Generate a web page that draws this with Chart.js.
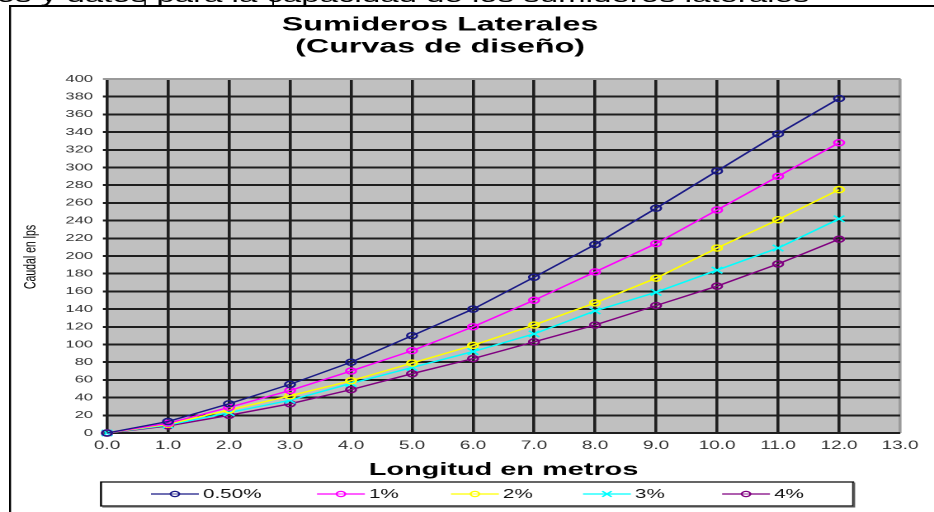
<!DOCTYPE html>
<html>
<head>
<meta charset="utf-8">
<script src="https://cdn.jsdelivr.net/npm/chart.js@4.4.0/dist/chart.umd.min.js"></script>
<style>
  html, body { margin: 0; padding: 0; background: #fff; overflow: hidden; }
  #wrap { position: absolute; left: 0; top: 0; width: 566px; height: 512px;
          transform: scaleX(1.650177); transform-origin: 0 0; }
</style>
</head>
<body>
<div id="wrap"><canvas id="c"></canvas></div>
<script>
// ---- data ----
const xValues = [0, 1, 2, 3, 4, 5, 6, 7, 8, 9, 10, 11, 12];
const seriesLabels = ['0.50%', '1%', '2%', '3%', '4%'];
const s050 = [0, 13, 33, 55, 80, 110, 140, 176, 213, 254, 296, 338, 378];
const s1   = [0, 11, 29, 48, 70, 93, 120, 150, 182, 214, 252, 290, 328];
const s2   = [0, 10, 26, 42, 59, 79, 99, 122, 147, 175, 209, 241, 275];
const s3   = [0, 9, 23, 37, 56, 74, 92, 112, 138, 159, 184, 209, 242];
const s4   = [0, 8, 20, 33, 49, 67, 84, 103, 122, 144, 166, 191, 219];
const titleLines = ['Sumideros Laterales', '(Curvas de diseño)'];
const xTitle = 'Longitud en metros';
const yTitle = 'Caudal en lps';
const topText = 'os y datos para la capacidad de los sumideros laterales';

const seriesValues = [s050, s1, s2, s3, s4];
const colors = ['#1a1a86', '#ff00ff', '#ffff00', '#00ffff', '#800080'];
const styles = ['circle', 'circle', 'circle', 'crossRot', 'circle'];

const FONT = "'Liberation Sans', Arial, Helvetica, sans-serif";

const datasets = seriesLabels.map((label, k) => ({
  label,
  data: xValues.map((x, i) => ({ x, y: seriesValues[k][i] })),
  borderColor: colors[k],
  backgroundColor: 'rgba(0,0,0,0)',
  borderWidth: 1.4,
  pointStyle: styles[k],
  pointRadius: styles[k] === 'crossRot' ? 4.5 : 3,
  pointBorderWidth: 1.4,
  pointBorderColor: colors[k],
  pointBackgroundColor: 'rgba(0,0,0,0)',
  tension: 0,
  clip: false
}));

const CW = 566, CH = 512;
const AREA = { left: 64.85, top: 79, right: 545.45, bottom: 433 };
const legendX = [91.5, 192.1, 273.3, 353.3, 437.6];

const decor = {
  id: 'decor',
  beforeDraw(chart) {
    const { ctx, chartArea: a } = chart;
    ctx.save();
    ctx.fillStyle = '#fff';
    ctx.fillRect(0, 0, chart.width, chart.height);
    // top fragment of surrounding document (cut by the page edge)
    ctx.fillStyle = '#000';
    ctx.font = '20px ' + FONT;
    ctx.textBaseline = 'alphabetic';
    ctx.textAlign = 'left';
    ctx.fillText(topText, -2, 2);
    ctx.strokeStyle = '#000';
    ctx.lineWidth = 1;
    ctx.beginPath();
    ctx.moveTo(87.9, 0); ctx.lineTo(87.9, 6);
    ctx.moveTo(165.5, 0); ctx.lineTo(165.5, 6);
    ctx.stroke();
    // frame
    ctx.lineWidth = 2;
    ctx.beginPath(); ctx.moveTo(5.5, 6); ctx.lineTo(CW, 6); ctx.stroke();
    ctx.lineWidth = 1.2;
    ctx.beginPath(); ctx.moveTo(6.1, 5); ctx.lineTo(6.1, CH); ctx.stroke();
    // plot background
    ctx.fillStyle = '#c0c0c0';
    ctx.fillRect(a.left, a.top, a.right - a.left, a.bottom - a.top);
    ctx.strokeStyle = '#9a9a9a';
    ctx.lineWidth = 1;
    ctx.strokeRect(a.left, a.top, a.right - a.left, a.bottom - a.top);
    ctx.restore();
  },
  afterDraw(chart) {
    const { ctx, chartArea: a } = chart;
    ctx.save();
    ctx.fillStyle = '#000';
    ctx.textAlign = 'center';
    ctx.textBaseline = 'middle';
    // chart title
    ctx.font = 'bold 19.5px ' + FONT;
    ctx.fillText(titleLines[0], 266.7, 25);
    ctx.fillText(titleLines[1], 266.7, 47);
    // x title
    ctx.font = 'bold 17.5px ' + FONT;
    ctx.fillText(xTitle, (a.left + a.right) / 2, 470);
    // y title
    ctx.save();
    ctx.translate(18.8, 257);
    ctx.rotate(-Math.PI / 2);
    ctx.font = '10.5px ' + FONT;
    ctx.fillText(yTitle, 0, 0);
    ctx.restore();
    // legend box
    ctx.strokeStyle = '#000';
    ctx.lineWidth = 1.2;
    ctx.strokeRect(61.2, 482, 517 - 61.2, 24);
    ctx.strokeStyle = '#555';
    ctx.lineWidth = 1.4;
    ctx.beginPath();
    ctx.moveTo(62, 506.8); ctx.lineTo(517.5, 506.8); ctx.lineTo(517.5, 482.5);
    ctx.stroke();
    const ly = 494;
    chart.data.datasets.forEach((ds, i) => {
      const x0 = legendX[i];
      ctx.strokeStyle = ds.borderColor;
      ctx.lineWidth = 1.3;
      ctx.beginPath(); ctx.moveTo(x0, ly); ctx.lineTo(x0 + 29, ly); ctx.stroke();
      const opts = { pointStyle: ds.pointStyle, radius: ds.pointStyle === 'crossRot' ? 4 : 2.6,
                     rotation: 0, borderWidth: 1.3 };
      ctx.fillStyle = 'rgba(255,255,255,0.4)';
      if (Chart.helpers && Chart.helpers.drawPoint) {
        Chart.helpers.drawPoint(ctx, opts, x0 + 14.5, ly);
      } else {
        ctx.beginPath(); ctx.arc(x0 + 14.5, ly, 2.6, 0, Math.PI * 2); ctx.stroke();
      }
      ctx.fillStyle = '#111';
      ctx.textAlign = 'left';
      ctx.font = '12.5px ' + FONT;
      ctx.fillText(ds.label, x0 + 31.5, ly + 0.5);
    });
    ctx.restore();
  }
};

new Chart(document.getElementById('c'), {
  type: 'line',
  data: { datasets },
  plugins: [decor],
  options: {
    responsive: true,
    maintainAspectRatio: false,
    devicePixelRatio: 2,
    animation: false,
    events: [],
    layout: { padding: { left: 0, top: AREA.top, right: CW - AREA.right, bottom: 0 } },
    plugins: { legend: { display: false }, title: { display: false }, tooltip: { enabled: false } },
    scales: {
      x: {
        type: 'linear', min: 0, max: 13,
        afterFit(s) { s.height = CH - AREA.bottom; },
        border: { display: false },
        grid: {
          drawTicks: false,
          lineWidth: 1.8,
          color: c => (c.tick && c.tick.value === 13) ? '#9a9a9a' : '#1e1e1e'
        },
        ticks: {
          stepSize: 1, padding: 6, color: '#333', maxRotation: 0, autoSkip: false,
          font: { family: FONT, size: 11.5 },
          callback: v => Number(v).toFixed(1)
        }
      },
      y: {
        type: 'linear', min: 0, max: 400,
        afterFit(s) { s.width = AREA.left; },
        border: { display: false },
        grid: {
          tickLength: 2.5,
          lineWidth: 2,
          color: c => (c.tick && c.tick.value === 400) ? '#9a9a9a' : '#1e1e1e'
        },
        ticks: {
          stepSize: 20, padding: 6, color: '#333', autoSkip: false,
          font: { family: FONT, size: 10 }
        }
      }
    }
  }
});
</script>
</body>
</html>
